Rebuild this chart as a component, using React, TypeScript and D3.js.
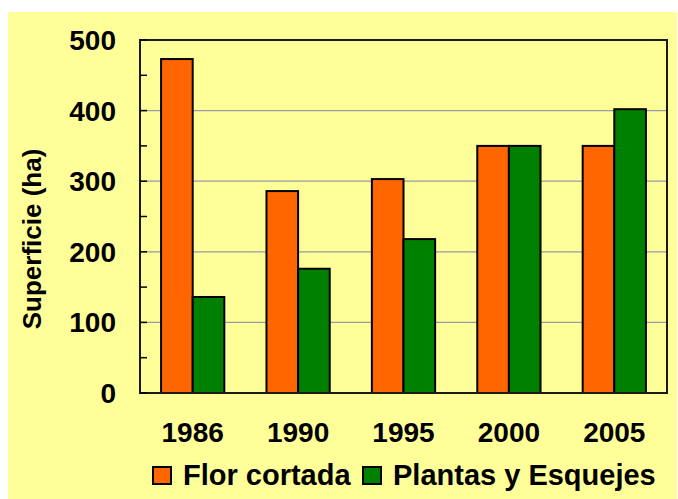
import * as d3 from "d3";

const years = ["1986", "1990", "1995", "2000", "2005"];
const series = ["Flor cortada", "Plantas y Esquejes"];
const florCortada = [473, 286, 303, 350, 350];
const plantasEsquejes = [136, 176, 218, 350, 402];
const yTicks = [0, 100, 200, 300, 400, 500];
const minorTicks = [50, 150, 250, 350, 450];

const colors = ["#FF6600", "#008000"];
const font = "'Liberation Sans', Arial, sans-serif";

export default function App() {
  const width = 678;
  const height = 499;
  const margin = { top: 40, right: 11, bottom: 106, left: 140 };
  const plotW = width - margin.left - margin.right;
  const plotH = height - margin.top - margin.bottom;

  const x = d3.scaleBand<string>().domain(years).range([0, plotW]).paddingInner(0.4).paddingOuter(0.2);
  const x1 = d3.scaleBand<string>().domain(series).range([0, x.bandwidth()]);
  const y = d3.scaleLinear().domain([0, 500]).range([plotH, 0]);

  const values = [florCortada, plantasEsquejes];

  return (
    <svg
      width={width}
      height={height}
      style={{ position: "absolute", left: 0, top: 0 }}
      fontFamily={font}
      fontWeight="bold"
    >
      <rect x={0} y={0} width={width} height={height} fill="#ffffff" />
      <rect x={8} y={12} width={669} height={height - 12} fill="#FFFF99" />
      <g transform={`translate(${margin.left},${margin.top})`}>
        {yTicks.slice(1, -1).map((t) => (
          <line key={t} x1={0} x2={plotW} y1={y(t)} y2={y(t)} stroke="#9a9aa8" strokeWidth={1.3} />
        ))}
        {years.map((yr, i) =>
          values.map((vals, s) => (
            <rect
              key={yr + s}
              x={(x(yr) ?? 0) + (x1(series[s]) ?? 0)}
              y={y(vals[i])}
              width={x1.bandwidth()}
              height={plotH - y(vals[i])}
              fill={colors[s]}
              stroke="#000"
              strokeWidth={2}
            />
          ))
        )}
        <rect x={0} y={0} width={plotW} height={plotH} fill="none" stroke="#1a1a1a" strokeWidth={2} />
        {yTicks.concat(minorTicks).map((t) => (
          <line key={"t" + t} x1={0} x2={7} y1={y(t)} y2={y(t)} stroke="#000" strokeWidth={1.5} />
        ))}
        {yTicks.map((t) => (
          <text key={"l" + t} x={-24} y={y(t)} dy="0.36em" textAnchor="end" fontSize={28} fill="#000">
            {t}
          </text>
        ))}
        {years.map((yr) => (
          <text
            key={"x" + yr}
            x={(x(yr) ?? 0) + x.bandwidth() / 2}
            y={plotH + 48.5}
            textAnchor="middle"
            fontSize={28}
            fill="#000"
          >
            {yr}
          </text>
        ))}
      </g>
      <text
        transform={`translate(41,239) rotate(-90)`}
        textAnchor="middle"
        fontSize={26}
        fill="#000"
      >
        Superficie (ha)
      </text>
      <g>
        {series.map((s, i) => {
          const lx = i === 0 ? 153 : 363;
          return (
            <g key={s}>
              <rect x={lx} y={467} width={18} height={17} fill={colors[i]} stroke="#000" strokeWidth={2} />
              <text x={lx + 30} y={485} fontSize={29} fill="#000">
                {s}
              </text>
            </g>
          );
        })}
      </g>
    </svg>
  );
}
